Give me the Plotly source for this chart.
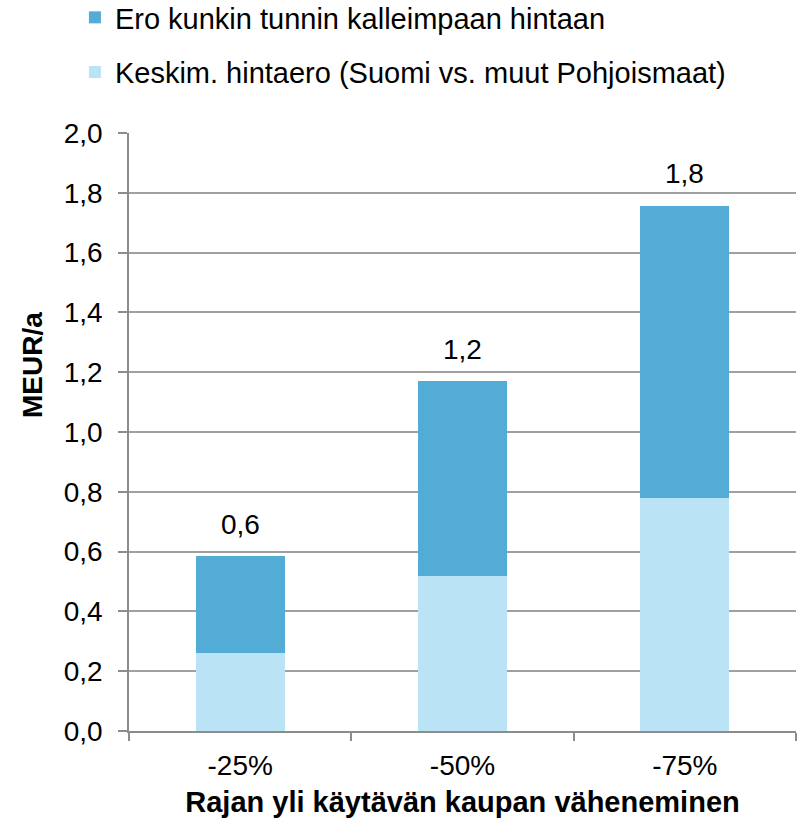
import plotly.graph_objects as go

categories = ["-25%", "-50%", "-75%"]
avg_diff = [0.26, 0.52, 0.78]          # Keskim. hintaero (Suomi vs. muut Pohjoismaat)
hourly_diff = [0.325, 0.65, 0.976]     # Ero kunkin tunnin kalleimpaan hintaan
totals = [a + b for a, b in zip(avg_diff, hourly_diff)]
total_labels = [f"{t:.1f}".replace(".", ",") for t in totals]

FONT = "Liberation Sans, Arial, sans-serif"
FS = 28
DARK = "#52ACD5"
LIGHT = "#BBE3F6"
GRID = "#A0A0A0"
AXIS = "#8C8C8C"

fig = go.Figure()
fig.add_trace(go.Bar(
    x=categories, y=avg_diff, name="Keskim. hintaero (Suomi vs. muut Pohjoismaat)",
    marker=dict(color=LIGHT, line=dict(width=0)), width=0.4, legendgroup="b", legendrank=2,
))
fig.add_trace(go.Bar(
    x=categories, y=hourly_diff, name="Ero kunkin tunnin kalleimpaan hintaan",
    marker=dict(color=DARK, line=dict(width=0)), width=0.4, legendgroup="a", legendrank=1,
))

for c, t, lab in zip(categories, totals, total_labels):
    fig.add_annotation(x=c, y=t, text=lab, showarrow=False, yanchor="middle",
                       yshift=32, font=dict(family=FONT, size=FS, color="#000"))

fig.add_annotation(xref="paper", yref="paper", x=-0.1454, y=0.612, text="<b>MEUR/a</b>",
                   textangle=-90, showarrow=False, xanchor="center", yanchor="middle",
                   font=dict(family=FONT, size=FS, color="#000"))

fig.update_layout(
    width=797, height=822,
    barmode="stack",
    separators=", ",
    paper_bgcolor="white", plot_bgcolor="white",
    margin=dict(l=129, r=1, t=133, b=91, autoexpand=False),
    font=dict(family=FONT, size=FS, color="#000"),
    showlegend=True,
    legend=dict(
        xref="container", yref="paper", x=0.094, y=1.2358, xanchor="left", yanchor="top",
        traceorder="grouped", tracegroupgap=14,
        font=dict(family=FONT, size=29, color="#000"), bgcolor="rgba(0,0,0,0)",
    ),
    bargap=0.6,
)
fig.update_xaxes(
    type="category", range=[-0.5, 2.5],
    showline=True, linecolor=AXIS, linewidth=1.5,
    ticks="outside", ticklen=8, tickcolor=AXIS, tickwidth=1.5, tickson="boundaries",
    ticklabelstandoff=9,
    showgrid=False,
    title=dict(text="<b>Rajan yli käytävän kaupan väheneminen</b>", font=dict(family=FONT, size=29), standoff=11),
    tickfont=dict(family=FONT, size=FS),
)
fig.update_yaxes(
    range=[0, 2.0], dtick=0.2, tick0=0, tickformat=".1f",
    showline=True, linecolor=AXIS, linewidth=1.5,
    ticks="outside", ticklen=9, tickcolor=AXIS, tickwidth=1.5,
    ticklabelstandoff=10,
    showgrid=True, gridcolor=GRID, gridwidth=1.5,
    zeroline=False,
    tickfont=dict(family=FONT, size=FS),
)

fig.write_html("out.html", config={"displayModeBar": False},
               post_script="document.body.style.margin='0';")
